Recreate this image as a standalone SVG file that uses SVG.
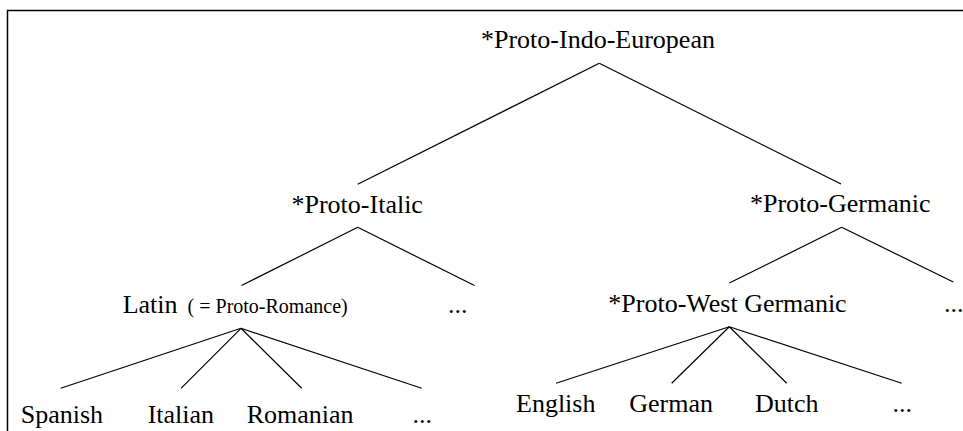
<svg xmlns="http://www.w3.org/2000/svg" width="963" height="431" viewBox="0 0 963 431">
<style>
.ln line{stroke:#000;stroke-width:1.2;fill:none}
.frame{stroke:#000;stroke-width:1.5;fill:none}
.lbl{font-family:Liberation Serif, Times New Roman, serif;font-size:26px;fill:#000}
</style>
<rect width="963" height="431" fill="#fff"/>
<path class="frame" d="M7.5 431 V10.5 H963"/>
<g id="connectors" class="ln">
<line x1="599.3" y1="63.3" x2="357.7" y2="184.3"/>
<line x1="599.3" y1="63.3" x2="841" y2="184"/>
<line x1="357.7" y1="227.3" x2="241.5" y2="285.5"/>
<line x1="357.7" y1="227.3" x2="474.5" y2="285.5"/>
<line x1="841.7" y1="227.3" x2="729.3" y2="283"/>
<line x1="841.7" y1="227.3" x2="953.3" y2="282"/>
<line x1="241" y1="328.3" x2="60.7" y2="388.3"/>
<line x1="241" y1="328.3" x2="181" y2="388.3"/>
<line x1="241" y1="328.3" x2="301.7" y2="388.3"/>
<line x1="241" y1="328.3" x2="421.7" y2="388.3"/>
<line x1="729.3" y1="326.7" x2="556" y2="383.3"/>
<line x1="729.3" y1="326.7" x2="671.7" y2="383.3"/>
<line x1="729.3" y1="326.7" x2="786.7" y2="383.3"/>
<line x1="729.3" y1="326.7" x2="901.7" y2="383.3"/>
</g>
<g id="pie"><text class="lbl" x="481" y="48">*Proto-Indo-European</text></g>
<g id="italic"><text class="lbl" x="291.5" y="212.7">*Proto-Italic</text></g>
<g id="germanic"><text class="lbl" x="750" y="211.7">*Proto-Germanic</text></g>
<g id="latin"><text class="lbl" x="122.7" y="312.7">Latin<tspan font-size="20" dx="5"> ( = Proto-Romance)</tspan></text></g>
<g id="italic-other"><text class="lbl" x="448" y="312.7">...</text></g>
<g id="westgermanic"><text class="lbl" x="608.3" y="311.7">*Proto-West Germanic</text></g>
<g id="germanic-other"><text class="lbl" x="944" y="311.7">...</text></g>
<g id="spanish"><text class="lbl" x="20.7" y="423.3">Spanish</text></g>
<g id="italian"><text class="lbl" x="147.7" y="423.3">Italian</text></g>
<g id="romanian"><text class="lbl" x="246.7" y="423.3">Romanian</text></g>
<g id="romance-other"><text class="lbl" x="412.5" y="423.3">...</text></g>
<g id="english"><text class="lbl" x="516" y="411.7">English</text></g>
<g id="german"><text class="lbl" x="629.3" y="411.7">German</text></g>
<g id="dutch"><text class="lbl" x="755" y="411.7">Dutch</text></g>
<g id="wg-other"><text class="lbl" x="892.5" y="411.7">...</text></g>
</svg>
